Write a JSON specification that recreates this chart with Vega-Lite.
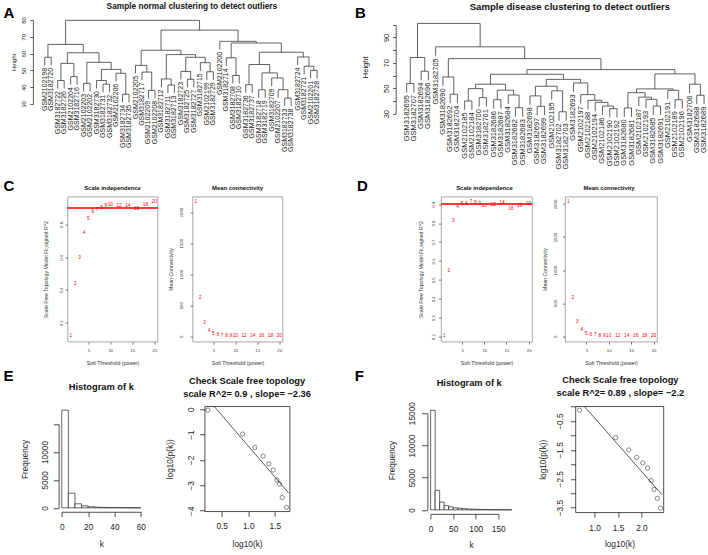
{
"$schema": "https://vega.github.io/schema/vega-lite/v6.json",
"background": "white",
"padding": {"left": 3, "top": 2, "right": 0, "bottom": 0},
"config": {
  "font": "Liberation Sans",
  "view": {"stroke": "#909090", "strokeWidth": 0.8},
  "axis": {"grid": false, "labelFlush": false, "labelBound": false, "labelOverlap": false, "domainColor": "#222", "tickColor": "#222", "labelColor": "#222", "titleColor": "#222", "titleFontWeight": "normal", "domainWidth": 0.8, "tickWidth": 0.8},
  "title": {"fontWeight": "bold", "color": "#111", "baseline": "top"}
},
"datasets": {
  "amerge": [
    {"xl":1,"xr":2,"h":57.8,"yl":53.0,"yr":53.0},
    {"xl":3,"xr":4,"h":44.0,"yl":39.2,"yr":39.2},
    {"xl":5,"xr":6,"h":46.3,"yl":41.5,"yr":41.5},
    {"xl":3.5,"xr":5.5,"h":54.2,"yl":44.0,"yr":46.3},
    {"xl":7,"xr":8,"h":42.3,"yl":37.5,"yr":37.5},
    {"xl":10,"xr":11,"h":41.8,"yl":37.0,"yr":37.0},
    {"xl":9,"xr":10.5,"h":44.0,"yl":39.2,"yr":41.8},
    {"xl":13,"xr":14,"h":35.8,"yl":31.0,"yr":31.0},
    {"xl":12,"xr":13.5,"h":48.3,"yl":43.5,"yr":35.8},
    {"xl":9.75,"xr":12.75,"h":50.6,"yl":44.0,"yr":48.3},
    {"xl":7.5,"xr":11.25,"h":54.8,"yl":42.3,"yr":50.6},
    {"xl":4.5,"xr":9.375,"h":60.5,"yl":54.2,"yr":54.8},
    {"xl":1.5,"xr":6.9375,"h":65.5,"yl":57.8,"yr":60.5},
    {"xl":17,"xr":18,"h":38.1,"yl":33.3,"yr":33.3},
    {"xl":16,"xr":17.5,"h":49.0,"yl":44.2,"yr":38.1},
    {"xl":15,"xr":16.75,"h":53.0,"yl":48.2,"yr":49.0},
    {"xl":20,"xr":21,"h":41.3,"yl":36.5,"yr":36.5},
    {"xl":19,"xr":20.5,"h":44.9,"yl":40.1,"yr":41.3},
    {"xl":23,"xr":24,"h":44.7,"yl":39.9,"yr":39.9},
    {"xl":22,"xr":23.5,"h":49.4,"yl":44.6,"yr":44.7},
    {"xl":26,"xr":27,"h":49.2,"yl":44.4,"yr":44.4},
    {"xl":25,"xr":26.5,"h":54.6,"yl":49.8,"yr":49.2},
    {"xl":22.75,"xr":25.75,"h":57.8,"yl":49.4,"yr":54.6},
    {"xl":19.75,"xr":24.25,"h":59.4,"yl":44.9,"yr":57.8},
    {"xl":15.875,"xr":22,"h":62.0,"yl":53.0,"yr":59.4},
    {"xl":30,"xr":31,"h":47.0,"yl":42.2,"yr":42.2},
    {"xl":29,"xr":30.5,"h":57.5,"yl":52.7,"yr":47.0},
    {"xl":32,"xr":33,"h":41.5,"yl":36.7,"yr":36.7},
    {"xl":34,"xr":35,"h":38.5,"yl":33.7,"yr":33.7},
    {"xl":38,"xr":39,"h":33.5,"yl":28.7,"yr":28.7},
    {"xl":37,"xr":38.5,"h":38.5,"yl":33.7,"yr":33.5},
    {"xl":36,"xr":37.75,"h":45.5,"yl":40.7,"yr":38.5},
    {"xl":34.5,"xr":36.875,"h":48.5,"yl":38.5,"yr":45.5},
    {"xl":32.5,"xr":35.6875,"h":53.5,"yl":41.5,"yr":48.5},
    {"xl":42,"xr":43,"h":50.0,"yl":45.2,"yr":45.2},
    {"xl":41,"xr":42.5,"h":52.5,"yl":47.7,"yr":50.0},
    {"xl":40,"xr":41.75,"h":58.0,"yl":53.2,"yr":52.5},
    {"xl":34.09375,"xr":40.875,"h":60.8,"yl":53.5,"yr":58.0},
    {"xl":29.75,"xr":37.484375,"h":66.3,"yl":57.5,"yr":60.8},
    {"xl":28,"xr":33.6171875,"h":67.3,"yl":62.5,"yr":66.3},
    {"xl":18.9375,"xr":30.80859375,"h":74.0,"yl":62.0,"yr":67.3},
    {"xl":4.21875,"xr":24.873046875,"h":79.8,"yl":65.5,"yr":74.0}
  ],
  "aleaf": [
    {"i":1,"label":"GSM2102198","end":53.0},{"i":2,"label":"GSM3182720","end":53.0},
    {"i":3,"label":"GSM3182722","end":39.2},{"i":4,"label":"GSM3182726","end":39.2},
    {"i":5,"label":"GSM2102204","end":41.5},{"i":6,"label":"GSM3182716","end":41.5},
    {"i":7,"label":"GSM2102203","end":37.5},{"i":8,"label":"GSM2102202","end":37.5},
    {"i":9,"label":"GSM3182730","end":39.2},{"i":10,"label":"GSM3182731","end":37.0},
    {"i":11,"label":"GSM3182732","end":37.0},{"i":12,"label":"GSM2102206","end":43.5},
    {"i":13,"label":"GSM3182734","end":31.0},{"i":14,"label":"GSM3182735","end":31.0},
    {"i":15,"label":"GSM2102205","end":48.2},{"i":16,"label":"GSM3182717","end":44.2},
    {"i":17,"label":"GSM2102209","end":33.3},{"i":18,"label":"GSM2102208","end":33.3},
    {"i":19,"label":"GSM3182712","end":40.1},{"i":20,"label":"GSM3182711","end":36.5},
    {"i":21,"label":"GSM3182713","end":36.5},{"i":22,"label":"GSM3182723","end":44.6},
    {"i":23,"label":"GSM3182725","end":39.9},{"i":24,"label":"GSM3182727","end":39.9},
    {"i":25,"label":"GSM3182715","end":49.8},{"i":26,"label":"GSM2102199","end":44.4},
    {"i":27,"label":"GSM3182729","end":44.4},{"i":28,"label":"GSM2102200","end":62.5},
    {"i":29,"label":"GSM3182714","end":52.7},{"i":30,"label":"GSM3182708","end":42.2},
    {"i":31,"label":"GSM3182710","end":42.2},{"i":32,"label":"GSM3182736","end":36.7},
    {"i":33,"label":"GSM3182737","end":36.7},{"i":34,"label":"GSM3182718","end":33.7},
    {"i":35,"label":"GSM3182719","end":33.7},{"i":36,"label":"GSM3182709","end":40.7},
    {"i":37,"label":"GSM2102207","end":33.7},{"i":38,"label":"GSM3182733","end":28.7},
    {"i":39,"label":"GSM3182738","end":28.7},{"i":40,"label":"GSM3182724","end":53.2},
    {"i":41,"label":"GSM3182721","end":47.7},{"i":42,"label":"GSM2102201","end":45.2},
    {"i":43,"label":"GSM3182728","end":45.2}
  ],
  "bmerge": [
    {"xl":1,"xr":2,"h":53.7,"yl":46.7,"yr":46.7},
    {"xl":3,"xr":4,"h":63.4,"yl":56.4,"yr":56.4},
    {"xl":1.5,"xr":3.5,"h":74.2,"yl":53.7,"yr":63.4},
    {"xl":7,"xr":8,"h":45.3,"yl":38.3,"yr":38.3},
    {"xl":6,"xr":7.5,"h":58.9,"yl":51.9,"yr":45.3},
    {"xl":9,"xr":10,"h":40.0,"yl":33.0,"yr":33.0},
    {"xl":11,"xr":12,"h":42.6,"yl":35.6,"yr":35.6},
    {"xl":9.5,"xr":11.5,"h":49.7,"yl":40.0,"yr":42.6},
    {"xl":13,"xr":14,"h":41.0,"yl":34.0,"yr":34.0},
    {"xl":16,"xr":17,"h":34.7,"yl":27.7,"yr":27.7},
    {"xl":15,"xr":16.5,"h":44.7,"yl":37.7,"yr":34.7},
    {"xl":13.5,"xr":15.75,"h":48.5,"yl":41.0,"yr":44.7},
    {"xl":10.5,"xr":14.625,"h":53.2,"yl":49.7,"yr":48.5},
    {"xl":19,"xr":20,"h":35.8,"yl":28.8,"yr":28.8},
    {"xl":18,"xr":19.5,"h":44.0,"yl":37.0,"yr":35.8},
    {"xl":22,"xr":23,"h":31.5,"yl":24.5,"yr":24.5},
    {"xl":21,"xr":22.5,"h":48.0,"yl":41.0,"yr":31.5},
    {"xl":18.75,"xr":21.75,"h":51.6,"yl":44.0,"yr":48.0},
    {"xl":29,"xr":30,"h":34.0,"yl":27.0,"yr":27.0},
    {"xl":28,"xr":29.5,"h":36.0,"yl":29.0,"yr":34.0},
    {"xl":27,"xr":28.75,"h":38.9,"yl":31.9,"yr":36.0},
    {"xl":26,"xr":27.875,"h":40.5,"yl":33.5,"yr":38.9},
    {"xl":25,"xr":26.9375,"h":45.0,"yl":38.0,"yr":40.5},
    {"xl":24,"xr":25.96875,"h":54.2,"yl":47.2,"yr":45.0},
    {"xl":20.25,"xr":24.984375,"h":57.0,"yl":51.6,"yr":54.2},
    {"xl":12.5625,"xr":22.6171875,"h":61.0,"yl":53.2,"yr":57.0},
    {"xl":31,"xr":32,"h":34.5,"yl":27.5,"yr":27.5},
    {"xl":35,"xr":36,"h":36.0,"yl":29.0,"yr":29.0},
    {"xl":34,"xr":35.5,"h":41.3,"yl":34.3,"yr":36.0},
    {"xl":33,"xr":34.75,"h":43.0,"yl":36.0,"yr":41.3},
    {"xl":31.5,"xr":33.875,"h":46.5,"yl":34.5,"yr":43.0},
    {"xl":38,"xr":39,"h":41.0,"yl":34.0,"yr":34.0},
    {"xl":37,"xr":38.5,"h":48.4,"yl":41.4,"yr":41.0},
    {"xl":32.6875,"xr":37.75,"h":49.5,"yl":46.5,"yr":48.4},
    {"xl":41,"xr":42,"h":44.5,"yl":37.5,"yr":37.5},
    {"xl":40,"xr":41.5,"h":53.2,"yl":46.2,"yr":44.5},
    {"xl":35.21875,"xr":40.75,"h":61.3,"yl":49.5,"yr":53.2},
    {"xl":17.58984375,"xr":37.984375,"h":64.7,"yl":61.0,"yr":61.3},
    {"xl":6.75,"xr":27.787109375,"h":73.3,"yl":58.9,"yr":64.7},
    {"xl":5,"xr":17.2685546875,"h":82.6,"yl":75.6,"yr":73.3},
    {"xl":2.5,"xr":11.13427734375,"h":101.0,"yl":74.2,"yr":82.6}
  ],
  "bleaf": [
    {"i":1,"label":"GSM3182695","end":46.7},{"i":2,"label":"GSM3182707","end":46.7},
    {"i":3,"label":"GSM3182694","end":56.4},{"i":4,"label":"GSM3182696","end":56.4},
    {"i":5,"label":"GSM3182705","end":75.6},{"i":6,"label":"GSM3182690","end":51.9},
    {"i":7,"label":"GSM3182692","end":38.3},{"i":8,"label":"GSM3182704","end":38.3},
    {"i":9,"label":"GSM2102185","end":33.0},{"i":10,"label":"GSM2102184","end":33.0},
    {"i":11,"label":"GSM3182700","end":35.6},{"i":12,"label":"GSM3182701","end":35.6},
    {"i":13,"label":"GSM3182686","end":34.0},{"i":14,"label":"GSM3182687","end":34.0},
    {"i":15,"label":"GSM3182684","end":37.7},{"i":16,"label":"GSM3182682","end":27.7},
    {"i":17,"label":"GSM3182683","end":27.7},{"i":18,"label":"GSM3182698","end":37.0},
    {"i":19,"label":"GSM3182697","end":28.8},{"i":20,"label":"GSM3182699","end":28.8},
    {"i":21,"label":"GSM2102195","end":41.0},{"i":22,"label":"GSM3182702","end":24.5},
    {"i":23,"label":"GSM3182703","end":24.5},{"i":24,"label":"GSM3182693","end":47.2},
    {"i":25,"label":"GSM2102197","end":38.0},{"i":26,"label":"GSM2102188","end":33.5},
    {"i":27,"label":"GSM2102194","end":31.9},{"i":28,"label":"GSM2102186","end":29.0},
    {"i":29,"label":"GSM2102190","end":27.0},{"i":30,"label":"GSM2102192","end":27.0},
    {"i":31,"label":"GSM3182680","end":27.5},{"i":32,"label":"GSM3182681","end":27.5},
    {"i":33,"label":"GSM2102187","end":36.0},{"i":34,"label":"GSM2102193","end":34.3},
    {"i":35,"label":"GSM3182685","end":29.0},{"i":36,"label":"GSM3182691","end":29.0},
    {"i":37,"label":"GSM2102191","end":41.4},{"i":38,"label":"GSM2102189","end":34.0},
    {"i":39,"label":"GSM2102196","end":34.0},{"i":40,"label":"GSM3182706","end":46.2},
    {"i":41,"label":"GSM3182688","end":37.5},{"i":42,"label":"GSM3182689","end":37.5}
  ],
  "csft": [
    {"power":1,"r2":0.118,"k":2163},{"power":2,"r2":0.439,"k":618},{"power":3,"r2":0.596,"k":217},
    {"power":4,"r2":0.749,"k":81},{"power":5,"r2":0.831,"k":38},{"power":6,"r2":0.873,"k":15},
    {"power":7,"r2":0.888,"k":9},{"power":8,"r2":0.898,"k":6},{"power":9,"r2":0.912,"k":4},
    {"power":10,"r2":0.916,"k":3},{"power":12,"r2":0.912,"k":1.5},{"power":14,"r2":0.91,"k":0.8},
    {"power":16,"r2":0.892,"k":0.5},{"power":18,"r2":0.92,"k":0.3},{"power":20,"r2":0.937,"k":0.2}
  ],
  "dsft": [
    {"power":1,"r2":0.202,"k":2031},{"power":2,"r2":0.549,"k":582},{"power":3,"r2":0.809,"k":214},
    {"power":4,"r2":0.886,"k":92},{"power":5,"r2":0.9,"k":41},{"power":6,"r2":0.9,"k":25},
    {"power":7,"r2":0.912,"k":12},{"power":8,"r2":0.907,"k":7},{"power":9,"r2":0.9,"k":5},
    {"power":10,"r2":0.891,"k":3},{"power":12,"r2":0.898,"k":2},{"power":14,"r2":0.905,"k":1},
    {"power":16,"r2":0.877,"k":0.6},{"power":18,"r2":0.891,"k":0.4},{"power":20,"r2":0.9,"k":0.3}
  ],
  "ehist": [
    {"k0":0,"k1":5,"freq":17500},{"k0":5,"k1":10,"freq":2620},{"k0":10,"k1":15,"freq":720},
    {"k0":15,"k1":20,"freq":360},{"k0":20,"k1":25,"freq":190},{"k0":25,"k1":30,"freq":115},
    {"k0":30,"k1":35,"freq":75},{"k0":35,"k1":40,"freq":50},{"k0":40,"k1":45,"freq":35},
    {"k0":45,"k1":50,"freq":25},{"k0":50,"k1":55,"freq":15},{"k0":55,"k1":60,"freq":10}
  ],
  "fhist": [
    {"k0":0,"k1":10,"freq":15450},{"k0":10,"k1":20,"freq":3030},{"k0":20,"k1":30,"freq":1200},
    {"k0":30,"k1":40,"freq":680},{"k0":40,"k1":50,"freq":470},{"k0":50,"k1":60,"freq":320},
    {"k0":60,"k1":70,"freq":250},{"k0":70,"k1":80,"freq":180},{"k0":80,"k1":90,"freq":130},
    {"k0":90,"k1":100,"freq":100},{"k0":100,"k1":110,"freq":75},{"k0":110,"k1":120,"freq":55},
    {"k0":120,"k1":130,"freq":40},{"k0":130,"k1":140,"freq":30},{"k0":140,"k1":150,"freq":22},
    {"k0":150,"k1":160,"freq":15},{"k0":160,"k1":170,"freq":10},{"k0":170,"k1":180,"freq":6}
  ],
  "escatter": [
    {"lk":0.238,"lp":-0.04},{"lk":0.894,"lp":-0.98},{"lk":1.125,"lp":-1.51},{"lk":1.28,"lp":-1.85},
    {"lk":1.39,"lp":-2.16},{"lk":1.47,"lp":-2.4},{"lk":1.54,"lp":-2.79},{"lk":1.59,"lp":-2.95},
    {"lk":1.64,"lp":-3.48},{"lk":1.72,"lp":-3.87}
  ],
  "eline": [{"lk":0.356,"lp":0.113},{"lk":1.76,"lp":-3.3}],
  "fscatter": [
    {"lk":0.679,"lp":-0.122},{"lk":1.45,"lp":-1.07},{"lk":1.73,"lp":-1.5},{"lk":1.9,"lp":-1.76},
    {"lk":2.03,"lp":-1.95},{"lk":2.13,"lp":-2.13},{"lk":2.21,"lp":-2.56},{"lk":2.27,"lp":-2.87},
    {"lk":2.34,"lp":-3.18},{"lk":2.41,"lp":-3.52}
  ],
  "fline": [{"lk":0.786,"lp":0.0},{"lk":2.44,"lp":-3.05}]
},
"vconcat": [
  {
    "hconcat": [
      {
        "hconcat": [
          {"width": 1, "height": 1, "view": {"stroke": null}, "data": {"values": [{"panel": "A"}]},
           "mark": {"type": "text", "align": "left", "baseline": "bottom", "fontSize": 15, "fontWeight": "bold", "color": "#000"},
           "encoding": {"text": {"field": "panel", "type": "nominal"}}},
          {
            "width": 296, "height": 84,
            "view": {"stroke": null},
            "title": {"text": "Sample normal clustering to detect outliers", "fontSize": 8.3, "anchor": "middle", "frame": "group", "offset": 6.3, "dx": 11},
            "layer": [
              {"data": {"name": "amerge"}, "mark": {"type": "rule", "color": "#3a3a3a", "strokeWidth": 0.8},
               "encoding": {
                 "x": {"field": "xl", "type": "quantitative", "scale": {"domain": [-0.82, 44.82], "nice": false, "zero": false}, "axis": null},
                 "x2": {"field": "xr"},
                 "y": {"field": "h", "type": "quantitative", "scale": {"domain": [30, 80], "nice": false, "zero": false},
                       "axis": {"title": "Height", "values": [30,40,50,60,70,80], "labelAngle": 270, "labelAlign": "center", "labelBaseline": "bottom", "labelFontSize": 6, "titleFontSize": 6, "tickSize": 3, "labelPadding": 3.5, "titlePadding": 4, "domainColor": "#333", "tickColor": "#333"}}
               }},
              {"data": {"name": "amerge"}, "mark": {"type": "rule", "color": "#3a3a3a", "strokeWidth": 0.8},
               "encoding": {"x": {"field": "xl", "type": "quantitative", "axis": null},
                 "y": {"field": "yl", "type": "quantitative", "axis": {"title": "Height", "values": [30,40,50,60,70,80], "labelAngle": 270, "labelAlign": "center", "labelBaseline": "bottom", "labelFontSize": 6, "titleFontSize": 6, "tickSize": 3, "labelPadding": 3.5, "titlePadding": 4, "domainColor": "#333", "tickColor": "#333"}},
                 "y2": {"field": "h"}}},
              {"data": {"name": "amerge"}, "mark": {"type": "rule", "color": "#3a3a3a", "strokeWidth": 0.8},
               "encoding": {"x": {"field": "xr", "type": "quantitative", "axis": null},
                 "y": {"field": "yr", "type": "quantitative", "axis": {"title": "Height", "values": [30,40,50,60,70,80], "labelAngle": 270, "labelAlign": "center", "labelBaseline": "bottom", "labelFontSize": 6, "titleFontSize": 6, "tickSize": 3, "labelPadding": 3.5, "titlePadding": 4, "domainColor": "#333", "tickColor": "#333"}},
                 "y2": {"field": "h"}}},
              {"data": {"name": "aleaf"}, "mark": {"type": "text", "angle": 270, "align": "right", "baseline": "middle", "dx": -2.5, "fontSize": 7, "color": "#222"},
               "encoding": {"x": {"field": "i", "type": "quantitative", "axis": null},
                 "y": {"field": "end", "type": "quantitative", "axis": {"title": "Height", "values": [30,40,50,60,70,80], "labelAngle": 270, "labelAlign": "center", "labelBaseline": "bottom", "labelFontSize": 6, "titleFontSize": 6, "tickSize": 3, "labelPadding": 3.5, "titlePadding": 4, "domainColor": "#333", "tickColor": "#333"}},
                 "text": {"field": "label"}}}
            ]
          }
        ],
        "spacing": -5.1, "bounds": "full", "align": "none"
      },
      {
        "hconcat": [
          {"width": 1, "height": 1, "view": {"stroke": null}, "data": {"values": [{"panel": "B"}]},
           "mark": {"type": "text", "align": "left", "baseline": "bottom", "fontSize": 15, "fontWeight": "bold", "color": "#000"},
           "encoding": {"text": {"field": "panel", "type": "nominal"}}},
          {
            "width": 313, "height": 93.7,
            "view": {"stroke": null},
            "title": {"text": "Sample disease clustering to detect outliers", "fontSize": 9.6, "anchor": "middle", "frame": "group", "offset": 8.4, "dx": 17.7},
            "layer": [
              {"data": {"name": "bmerge"}, "mark": {"type": "rule", "color": "#3a3a3a", "strokeWidth": 0.8},
               "encoding": {
                 "x": {"field": "xl", "type": "quantitative", "scale": {"domain": [-0.507, 42.64], "nice": false, "zero": false}, "axis": null},
                 "x2": {"field": "xr"},
                 "y": {"field": "h", "type": "quantitative", "scale": {"domain": [30, 103.7], "nice": false, "zero": false},
                       "axis": {"title": "Height", "values": [30,40,50,60,70,80,90,100], "labelExpr": "datum.value % 20 == 10 ? datum.label : ''", "domainDash": [88.97, 300], "labelAngle": 270, "labelAlign": "center", "labelBaseline": "bottom", "labelFontSize": 7.5, "titleFontSize": 7.5, "tickSize": 3, "labelPadding": 2.3, "titlePadding": 13, "domainColor": "#333", "tickColor": "#333"}}
               }},
              {"data": {"name": "bmerge"}, "mark": {"type": "rule", "color": "#3a3a3a", "strokeWidth": 0.8},
               "encoding": {"x": {"field": "xl", "type": "quantitative", "axis": null},
                 "y": {"field": "yl", "type": "quantitative", "axis": {"title": "Height", "values": [30,40,50,60,70,80,90,100], "labelExpr": "datum.value % 20 == 10 ? datum.label : ''", "domainDash": [88.97, 300], "labelAngle": 270, "labelAlign": "center", "labelBaseline": "bottom", "labelFontSize": 7.5, "titleFontSize": 7.5, "tickSize": 3, "labelPadding": 2.3, "titlePadding": 13, "domainColor": "#333", "tickColor": "#333"}},
                 "y2": {"field": "h"}}},
              {"data": {"name": "bmerge"}, "mark": {"type": "rule", "color": "#3a3a3a", "strokeWidth": 0.8},
               "encoding": {"x": {"field": "xr", "type": "quantitative", "axis": null},
                 "y": {"field": "yr", "type": "quantitative", "axis": {"title": "Height", "values": [30,40,50,60,70,80,90,100], "labelExpr": "datum.value % 20 == 10 ? datum.label : ''", "domainDash": [88.97, 300], "labelAngle": 270, "labelAlign": "center", "labelBaseline": "bottom", "labelFontSize": 7.5, "titleFontSize": 7.5, "tickSize": 3, "labelPadding": 2.3, "titlePadding": 13, "domainColor": "#333", "tickColor": "#333"}},
                 "y2": {"field": "h"}}},
              {"data": {"name": "bleaf"}, "mark": {"type": "text", "angle": 270, "align": "right", "baseline": "middle", "dx": -2.5, "fontSize": 7.5, "color": "#222"},
               "encoding": {"x": {"field": "i", "type": "quantitative", "axis": null},
                 "y": {"field": "end", "type": "quantitative", "axis": {"title": "Height", "values": [30,40,50,60,70,80,90,100], "labelExpr": "datum.value % 20 == 10 ? datum.label : ''", "domainDash": [88.97, 300], "labelAngle": 270, "labelAlign": "center", "labelBaseline": "bottom", "labelFontSize": 7.5, "titleFontSize": 7.5, "tickSize": 3, "labelPadding": 2.3, "titlePadding": 13, "domainColor": "#333", "tickColor": "#333"}},
                 "text": {"field": "label"}}}
            ]
          }
        ],
        "spacing": -5.8, "bounds": "full", "align": "none"
      }
    ],
    "spacing": 25.5,
    "bounds": "full",
    "align": "none"
  },
  {
    "vconcat": [
      {
        "hconcat": [
          {
            "hconcat": [
              {"width": 1, "height": 1, "view": {"stroke": null}, "data": {"values": [{"panel": "C"}]},
               "mark": {"type": "text", "align": "left", "baseline": "bottom", "fontSize": 15, "fontWeight": "bold", "color": "#000", "dy": -3.5},
               "encoding": {"text": {"field": "panel", "type": "nominal"}}},
              {
                "hconcat": [
                  {
                    "width": 90, "height": 145,
                    "title": {"text": "Scale independence", "fontSize": 5.9, "anchor": "middle", "frame": "group", "offset": 5.3},
                    "data": {"name": "csft"},
                    "layer": [
                      {"mark": {"type": "rule", "color": "#ff3b3b", "strokeWidth": 0.9},
                       "encoding": {"y": {"datum": 0.9, "type": "quantitative", "scale": {"domain": [0.085, 0.97], "nice": false, "zero": false},
                         "axis": {"values": [0.2,0.4,0.6,0.8], "format": ".1f", "title": "Scale Free Topology Model Fit,signed R^2", "titleFontSize": 5.2, "labelFontSize": 4.3, "labelAngle": 270, "labelAlign": "center", "labelBaseline": "bottom", "tickSize": 2.5, "labelPadding": 1.1, "titlePadding": 11.6, "domain": false, "tickColor": "#555", "labelColor": "#333", "titleColor": "#333"}}}},
                      {"mark": {"type": "text", "color": "#ff0000", "fontSize": 4.8},
                       "encoding": {
                         "x": {"field": "power", "type": "quantitative", "scale": {"domain": [0.24, 20.76], "nice": false, "zero": false},
                               "axis": {"values": [5,10,15,20], "title": "Soft Threshold (power)", "titleFontSize": 5.2, "labelFontSize": 4.3, "tickSize": 2.5, "labelPadding": 4.5, "titlePadding": 8, "domain": false, "labelAngle": 0, "tickColor": "#555", "labelColor": "#333", "titleColor": "#333"}},
                         "y": {"field": "r2", "type": "quantitative", "scale": {"domain": [0.085, 0.97], "nice": false, "zero": false},
                               "axis": {"values": [0.2,0.4,0.6,0.8], "format": ".1f", "title": "Scale Free Topology Model Fit,signed R^2", "titleFontSize": 5.2, "labelFontSize": 4.3, "labelAngle": 270, "labelAlign": "center", "labelBaseline": "bottom", "tickSize": 2.5, "labelPadding": 1.1, "titlePadding": 11.6, "domain": false, "tickColor": "#555", "labelColor": "#333", "titleColor": "#333"}},
                         "text": {"field": "power", "type": "quantitative"}
                       }}
                    ]
                  },
                  {
                    "width": 90, "height": 145,
                    "title": {"text": "Mean connectivity", "fontSize": 5.9, "anchor": "middle", "frame": "group", "offset": 5.3},
                    "data": {"name": "csft"},
                    "mark": {"type": "text", "color": "#ff0000", "fontSize": 4.8},
                    "encoding": {
                      "x": {"field": "power", "type": "quantitative", "scale": {"domain": [0.24, 20.76], "nice": false, "zero": false},
                            "axis": {"values": [5,10,15,20], "title": "Soft Threshold (power)", "titleFontSize": 5.2, "labelFontSize": 4.3, "tickSize": 2.5, "labelPadding": 4.5, "titlePadding": 8, "domain": false, "labelAngle": 0, "tickColor": "#555", "labelColor": "#333", "titleColor": "#333"}},
                      "y": {"field": "k", "type": "quantitative", "scale": {"domain": [-86, 2250], "nice": false, "zero": false},
                            "axis": {"values": [0,500,1000,1500,2000], "format": "d", "title": "Mean Connectivity", "titleFontSize": 5.2, "labelFontSize": 4.3, "labelAngle": 270, "labelAlign": "center", "labelBaseline": "bottom", "tickSize": 2.5, "labelPadding": 7, "titlePadding": 5.8, "domain": false, "tickColor": "#555", "labelColor": "#333", "titleColor": "#333"}},
                      "text": {"field": "power", "type": "quantitative"}
                    }
                  }
                ],
                "spacing": 35, "bounds": "flush", "align": "none"
              }
            ],
            "spacing": 27.5, "bounds": "full", "align": "none"
          },
          {
            "hconcat": [
              {"width": 1, "height": 1, "view": {"stroke": null}, "data": {"values": [{"panel": "D"}]},
               "mark": {"type": "text", "align": "left", "baseline": "bottom", "fontSize": 15, "fontWeight": "bold", "color": "#000", "dy": -3.5},
               "encoding": {"text": {"field": "panel", "type": "nominal"}}},
              {
                "hconcat": [
                  {
                    "width": 91, "height": 145,
                    "title": {"text": "Scale independence", "fontSize": 5.9, "anchor": "middle", "frame": "group", "offset": 5.3, "dx": -2},
                    "data": {"name": "dsft"},
                    "layer": [
                      {"mark": {"type": "rule", "color": "#ff3b3b", "strokeWidth": 0.9},
                       "encoding": {"y": {"datum": 0.9, "type": "quantitative", "scale": {"domain": [0.174, 0.94], "nice": false, "zero": false},
                         "axis": {"values": [0.2,0.3,0.4,0.5,0.6,0.7,0.8,0.9], "format": ".1f", "title": "Scale Free Topology Model Fit,signed R^2", "titleFontSize": 5.2, "labelFontSize": 4.3, "labelAngle": 270, "labelAlign": "center", "labelBaseline": "bottom", "tickSize": 2.5, "labelPadding": 3, "titlePadding": 8, "domain": false, "tickColor": "#555", "labelColor": "#333", "titleColor": "#333"}}}},
                      {"mark": {"type": "text", "color": "#ff0000", "fontSize": 4.8},
                       "encoding": {
                         "x": {"field": "power", "type": "quantitative", "scale": {"domain": [0.24, 20.76], "nice": false, "zero": false},
                               "axis": {"values": [5,10,15,20], "title": "Soft Threshold (power)", "titleFontSize": 5.2, "labelFontSize": 4.3, "tickSize": 2.5, "labelPadding": 4.5, "titlePadding": 8, "domain": false, "labelAngle": 0, "tickColor": "#555", "labelColor": "#333", "titleColor": "#333"}},
                         "y": {"field": "r2", "type": "quantitative", "scale": {"domain": [0.174, 0.94], "nice": false, "zero": false},
                               "axis": {"values": [0.2,0.3,0.4,0.5,0.6,0.7,0.8,0.9], "format": ".1f", "title": "Scale Free Topology Model Fit,signed R^2", "titleFontSize": 5.2, "labelFontSize": 4.3, "labelAngle": 270, "labelAlign": "center", "labelBaseline": "bottom", "tickSize": 2.5, "labelPadding": 3, "titlePadding": 8, "domain": false, "tickColor": "#555", "labelColor": "#333", "titleColor": "#333"}},
                         "text": {"field": "power", "type": "quantitative"}
                       }}
                    ]
                  },
                  {
                    "width": 92, "height": 145,
                    "title": {"text": "Mean connectivity", "fontSize": 5.9, "anchor": "middle", "frame": "group", "offset": 5.3, "dx": -2},
                    "data": {"name": "dsft"},
                    "mark": {"type": "text", "color": "#ff0000", "fontSize": 4.8},
                    "encoding": {
                      "x": {"field": "power", "type": "quantitative", "scale": {"domain": [0.24, 20.76], "nice": false, "zero": false},
                            "axis": {"values": [5,10,15,20], "title": "Soft Threshold (power)", "titleFontSize": 5.2, "labelFontSize": 4.3, "tickSize": 2.5, "labelPadding": 4.5, "titlePadding": 8, "domain": false, "labelAngle": 0, "tickColor": "#555", "labelColor": "#333", "titleColor": "#333"}},
                      "y": {"field": "k", "type": "quantitative", "scale": {"domain": [-81, 2112], "nice": false, "zero": false},
                            "axis": {"values": [0,500,1000,1500,2000], "format": "d", "title": "Mean Connectivity", "titleFontSize": 5.2, "labelFontSize": 4.3, "labelAngle": 270, "labelAlign": "center", "labelBaseline": "bottom", "tickSize": 2.5, "labelPadding": 5.4, "titlePadding": 5.3, "domain": false, "tickColor": "#555", "labelColor": "#333", "titleColor": "#333"}},
                      "text": {"field": "power", "type": "quantitative"}
                    }
                  }
                ],
                "spacing": 33, "bounds": "flush", "align": "none"
              }
            ],
            "spacing": 49.5, "bounds": "full", "align": "none"
          }
        ],
        "spacing": 73.5,
        "bounds": "full",
        "align": "none"
      },
      {
        "hconcat": [
          {
            "hconcat": [
              {"width": 1, "height": 1, "view": {"stroke": null}, "data": {"values": [{"panel": "E"}]},
               "mark": {"type": "text", "align": "left", "baseline": "bottom", "fontSize": 15, "fontWeight": "bold", "color": "#000", "dy": -22.5},
               "encoding": {"text": {"field": "panel", "type": "nominal"}}},
              {
                "hconcat": [
                  {
                    "width": 85.4, "height": 105.5,
                    "view": {"stroke": null},
                    "title": {"text": "Histogram of k", "fontSize": 9.3, "anchor": "middle", "frame": "group", "offset": 13.7},
                    "data": {"name": "ehist"},
                    "mark": {"type": "rect", "fill": "white", "stroke": "#222", "strokeWidth": 0.7},
                    "encoding": {
                      "x": {"field": "k0", "type": "quantitative", "scale": {"domain": [-2.4, 62.4], "nice": false, "zero": false},
                            "axis": {"values": [0,20,40,60], "title": "k", "domainDash": [0, 3.16, 79, 300], "tickSize": 5, "labelPadding": 5.5, "titlePadding": 9, "labelFontSize": 8.3, "titleFontSize": 8.3, "labelAngle": 0}},
                      "x2": {"field": "k1"},
                      "y": {"field": "freq", "type": "quantitative", "scale": {"domain": [-700, 18200], "nice": false, "zero": false},
                            "axis": {"values": [0,5000,10000,15000], "format": "d", "labelExpr": "datum.value == 15000 ? '' : datum.label", "title": "Frequency", "domainDash": [0, 3.9, 83.7, 300], "labelAngle": 270, "labelAlign": "center", "labelBaseline": "bottom", "tickSize": 5.3, "labelPadding": 4.1, "titlePadding": 11, "labelFontSize": 8.3, "titleFontSize": 8.3}},
                      "y2": {"datum": 0}
                    }
                  },
                  {
                    "width": 85, "height": 105,
                    "view": {"stroke": "#222"},
                    "title": {"text": ["Check Scale free topology", "scale R^2= 0.9 , slope= −2.36"], "fontSize": 9.3, "lineHeight": 12.2, "anchor": "middle", "frame": "group", "offset": 7.3},
                    "layer": [
                      {"data": {"name": "escatter"}, "mark": {"type": "point", "shape": "circle", "filled": false, "size": 18, "stroke": "#111", "strokeWidth": 0.7},
                       "encoding": {
                         "x": {"field": "lk", "type": "quantitative", "scale": {"domain": [0.178, 1.779], "nice": false, "zero": false},
                               "axis": {"values": [0.5,1.0,1.5], "format": ".1f", "title": "log10(k)", "domain": false, "tickSize": 5, "labelPadding": 5.5, "titlePadding": 9, "labelFontSize": 8.3, "titleFontSize": 8.3, "labelAngle": 0}},
                         "y": {"field": "lp", "type": "quantitative", "scale": {"domain": [-4.023, 0.113], "nice": false, "zero": false},
                               "axis": {"values": [-4,-3,-2,-1,0], "format": "d", "title": "log10(p(k))", "domain": false, "labelAngle": 270, "labelAlign": "center", "labelBaseline": "bottom", "tickSize": 5, "labelPadding": 4.1, "titlePadding": 11.7, "labelFontSize": 8.3, "titleFontSize": 8.3}}
                       }},
                      {"data": {"name": "eline"}, "mark": {"type": "line", "color": "#111", "strokeWidth": 0.7, "clip": true},
                       "encoding": {
                         "x": {"field": "lk", "type": "quantitative", "axis": {"values": [0.5,1.0,1.5], "format": ".1f", "title": "log10(k)", "domain": false, "tickSize": 5, "labelPadding": 5.5, "titlePadding": 9, "labelFontSize": 8.3, "titleFontSize": 8.3, "labelAngle": 0}},
                         "y": {"field": "lp", "type": "quantitative", "axis": {"values": [-4,-3,-2,-1,0], "format": "d", "title": "log10(p(k))", "domain": false, "labelAngle": 270, "labelAlign": "center", "labelBaseline": "bottom", "tickSize": 5, "labelPadding": 4.1, "titlePadding": 11.7, "labelFontSize": 8.3, "titleFontSize": 8.3}}}}
                    ]
                  }
                ],
                "spacing": 60, "bounds": "flush", "align": "none"
              }
            ],
            "spacing": 5.6, "bounds": "full", "align": "none"
          },
          {
            "hconcat": [
              {"width": 1, "height": 1, "view": {"stroke": null}, "data": {"values": [{"panel": "F"}]},
               "mark": {"type": "text", "align": "left", "baseline": "bottom", "fontSize": 15, "fontWeight": "bold", "color": "#000", "dy": -22.5},
               "encoding": {"text": {"field": "panel", "type": "nominal"}}},
              {
                "hconcat": [
                  {
                    "width": 87.6, "height": 107.6,
                    "view": {"stroke": null},
                    "title": {"text": "Histogram of k", "fontSize": 9.3, "anchor": "middle", "frame": "group", "offset": 13.7, "dx": -2},
                    "data": {"name": "fhist"},
                    "mark": {"type": "rect", "fill": "white", "stroke": "#222", "strokeWidth": 0.7},
                    "encoding": {
                      "x": {"field": "k0", "type": "quantitative", "scale": {"domain": [-7.2, 187.2], "nice": false, "zero": false},
                            "axis": {"values": [0,50,100,150], "title": "k", "domainDash": [0, 3.25, 67.6, 300], "tickSize": 5, "labelPadding": 5.5, "titlePadding": 8, "labelFontSize": 8.3, "titleFontSize": 8.3, "labelAngle": 0}},
                      "x2": {"field": "k1"},
                      "y": {"field": "freq", "type": "quantitative", "scale": {"domain": [-620, 16070], "nice": false, "zero": false},
                            "axis": {"values": [0,5000,10000,15000], "format": "d", "title": "Frequency", "domainDash": [0, 4.0, 96.7, 300], "labelAngle": 270, "labelAlign": "center", "labelBaseline": "bottom", "tickSize": 6, "labelPadding": 4.7, "titlePadding": 10.9, "labelFontSize": 8.3, "titleFontSize": 8.3}},
                      "y2": {"datum": 0}
                    }
                  },
                  {
                    "width": 88, "height": 106,
                    "view": {"stroke": "#222"},
                    "title": {"text": ["Check Scale free topology", "scale R^2= 0.89 , slope= −2.2"], "fontSize": 9.3, "lineHeight": 12.2, "anchor": "middle", "frame": "group", "offset": 8, "dx": 1},
                    "layer": [
                      {"data": {"name": "fscatter"}, "mark": {"type": "point", "shape": "circle", "filled": false, "size": 18, "stroke": "#111", "strokeWidth": 0.7},
                       "encoding": {
                         "x": {"field": "lk", "type": "quantitative", "scale": {"domain": [0.59, 2.47], "nice": false, "zero": false},
                               "axis": {"values": [1.0,1.5,2.0], "format": ".1f", "title": "log10(k)", "domain": false, "tickSize": 5, "labelPadding": 6, "titlePadding": 8, "labelFontSize": 8.3, "titleFontSize": 8.3, "labelAngle": 0}},
                         "y": {"field": "lp", "type": "quantitative", "scale": {"domain": [-3.66, 0.014], "nice": false, "zero": false},
                               "axis": {"values": [-3.5,-3,-2.5,-2,-1.5,-1,-0.5,0], "format": ".1f", "labelExpr": "abs(datum.value % 1) == 0.5 ? datum.label : ''", "title": "log10(p(k))", "domain": false, "labelAngle": 270, "labelAlign": "center", "labelBaseline": "bottom", "tickSize": 5, "labelPadding": 5.9, "titlePadding": 8, "labelFontSize": 8.3, "titleFontSize": 8.3}}
                       }},
                      {"data": {"name": "fline"}, "mark": {"type": "line", "color": "#111", "strokeWidth": 0.7, "clip": true},
                       "encoding": {
                         "x": {"field": "lk", "type": "quantitative", "axis": {"values": [1.0,1.5,2.0], "format": ".1f", "title": "log10(k)", "domain": false, "tickSize": 5, "labelPadding": 6, "titlePadding": 8, "labelFontSize": 8.3, "titleFontSize": 8.3, "labelAngle": 0}},
                         "y": {"field": "lp", "type": "quantitative", "axis": {"values": [-3.5,-3,-2.5,-2,-1.5,-1,-0.5,0], "format": ".1f", "labelExpr": "abs(datum.value % 1) == 0.5 ? datum.label : ''", "title": "log10(p(k))", "domain": false, "labelAngle": 270, "labelAlign": "center", "labelBaseline": "bottom", "tickSize": 5, "labelPadding": 5.9, "titlePadding": 8, "labelFontSize": 8.3, "titleFontSize": 8.3}}}}
                    ]
                  }
                ],
                "spacing": 60, "bounds": "flush", "align": "none"
              }
            ],
            "spacing": 23.1, "bounds": "full", "align": "none"
          }
        ],
        "spacing": 42.3,
        "bounds": "full",
        "align": "none"
      }
    ],
    "spacing": 2.65,
    "bounds": "full",
    "align": "none"
  }
],
"spacing": 8.6,
"bounds": "full",
"align": "none"
}
